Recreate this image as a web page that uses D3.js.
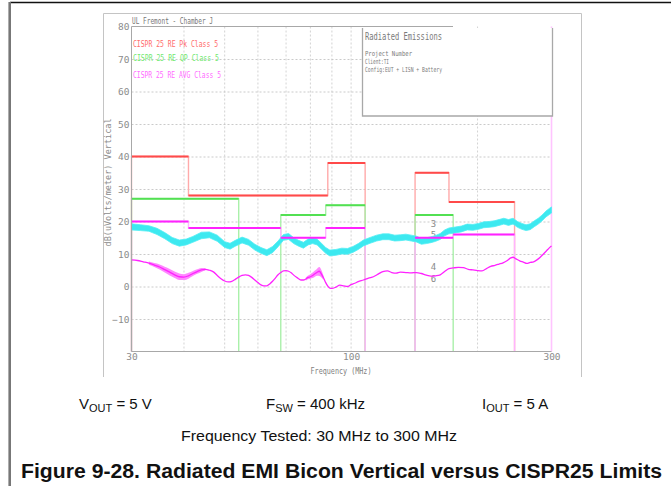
<!DOCTYPE html>
<html>
<head>
<meta charset="utf-8">
<script src="https://cdn.jsdelivr.net/npm/d3@7"></script>
<style>
  html, body { margin: 0; padding: 0; background: #fff; }
  svg { display: block; }
</style>
</head>
<body>
<svg id="chart" width="671" height="486"></svg>
<script>
// ---------- DATA ----------
const xTickValues = [30, 100, 300];
const xGridValues = [40, 50, 60, 70, 80, 90, 100, 200];
const yTickValues = [-10, 0, 10, 20, 30, 40, 50, 60, 70, 80];
const yGridValues = [-10, 0, 10, 20, 30, 40, 50, 60, 70];

// CISPR 25 Class 5 limits (band start MHz, band end MHz, level dBuV/m)
const peakStart = [30, 41, 88, 142, 171];
const peakEnd   = [41, 88, 108, 171, 245];
const peakLevel = [40, 28, 38, 35, 26];

const qpStart = [30, 68, 87, 142];
const qpEnd   = [54, 87, 108, 175];
const qpLevel = [27, 22, 25, 22];

const avgStart = [30, 41, 68, 87, 142, 175];
const avgEnd   = [41, 68, 87, 108, 175, 245];
const avgLevel = [20, 18, 15, 18, 15, 16];

const legendLabels = ["CISPR 25 RE Pk Class 5", "CISPR 25 RE QP Class 5", "CISPR 25 RE AVG Class 5"];

// Peak trace (cyan) envelope
const cyanFreq = [30, 31.5, 33, 34.5, 36, 37.5, 39, 40.5, 42, 44, 46, 48, 50, 51.5, 53, 55, 57, 59, 61, 63, 65, 67, 69, 71, 73, 75, 77, 79, 81, 83, 85, 87, 89, 92, 95, 98, 101, 104, 107, 111, 115, 119, 123, 127, 131, 135, 139, 143, 147, 151, 155, 159, 163, 167, 171, 177, 183, 189, 195, 201, 207, 213, 219, 225, 231, 237, 243, 249, 255, 261, 267, 273, 279, 285, 291, 297, 300];
const cyanLow  = [17.4, 17.2, 17.0, 16.0, 14.7, 13.2, 12.4, 12.8, 13.6, 14.7, 15.0, 13.9, 12.0, 11.5, 12.4, 13.4, 12.7, 11.2, 10.2, 9.5, 10.4, 12.2, 14.2, 14.5, 13.2, 12.4, 11.8, 12.8, 13.2, 12.8, 11.5, 10.2, 9.4, 9.6, 10.0, 9.9, 10.5, 11.4, 12.5, 13.3, 14.0, 14.4, 14.4, 14.0, 14.1, 14.3, 14.0, 13.7, 13.0, 13.2, 13.5, 13.9, 14.5, 15.6, 16.2, 16.5, 16.8, 17.4, 17.3, 17.6, 18.1, 18.2, 18.4, 18.8, 19.2, 18.8, 19.2, 18.2, 17.6, 17.2, 17.5, 18.4, 19.2, 20.2, 21.4, 22.2, 22.6];
const cyanHigh = [19.3, 19.0, 18.7, 17.9, 16.6, 15.1, 14.3, 14.6, 15.4, 16.7, 16.8, 15.8, 13.8, 13.3, 14.2, 15.2, 14.5, 13.0, 12.0, 11.3, 12.3, 14.0, 16.0, 16.3, 15.0, 14.2, 13.6, 14.6, 15.0, 14.6, 13.3, 12.0, 11.2, 11.4, 11.8, 11.7, 12.3, 13.2, 14.3, 15.1, 15.8, 16.2, 16.2, 15.8, 15.9, 16.1, 15.8, 15.5, 14.8, 15.0, 15.3, 15.7, 16.3, 17.4, 18.0, 18.3, 18.6, 19.2, 19.1, 19.4, 19.9, 20.0, 20.2, 20.6, 21.0, 20.6, 21.0, 20.0, 19.4, 19.0, 19.3, 20.2, 21.0, 22.0, 23.2, 24.1, 24.5];

// Average trace (magenta)
const magFreq = [30, 31, 32, 33, 34, 35, 36, 37, 38, 39, 40, 41, 42, 43, 44, 45, 46, 47, 48, 49, 50, 51, 52, 53, 54, 55, 56, 57, 58, 59, 60, 61, 62, 63, 64, 65, 66, 67, 68, 69, 70, 71, 72, 73, 74, 75, 76, 77, 78, 79, 80, 81, 82, 83, 84, 85, 86, 87, 88, 89, 90, 92, 94, 96, 98, 100, 102, 104, 107, 110, 113, 116, 119, 122, 125, 128, 131, 135, 139, 143, 147, 151, 155, 159, 163, 167, 171, 175, 180, 185, 190, 195, 200, 205, 210, 215, 220, 225, 230, 235, 240, 243, 247, 252, 257, 262, 267, 272, 277, 282, 287, 292, 296, 300];
const magDb   = [8.2, 8.0, 7.6, 7.2, 6.6, 6.0, 5.2, 4.4, 3.6, 3.0, 2.9, 3.3, 4.0, 4.6, 5.1, 5.3, 5.0, 4.5, 3.4, 2.4, 1.7, 1.4, 1.6, 2.2, 2.9, 3.4, 3.6, 3.4, 2.8, 2.0, 1.2, 0.5, 0.2, 0.2, 0.8, 1.6, 2.6, 3.6, 4.3, 4.8, 4.9, 4.7, 4.2, 3.5, 2.9, 2.4, 2.0, 2.0, 2.3, 2.8, 3.0, 3.4, 3.9, 4.4, 4.7, 3.8, 2.6, 1.2, 0.1, -0.5, -0.6, -0.2, 0.4, 0.2, 0.0, 0.6, 1.0, 1.5, 2.0, 2.6, 3.0, 3.8, 4.6, 4.8, 4.3, 4.1, 4.4, 4.3, 4.2, 4.3, 4.0, 3.5, 3.2, 3.3, 3.6, 4.6, 5.5, 5.7, 5.9, 5.8, 5.3, 5.1, 4.9, 4.8, 5.5, 6.2, 6.5, 6.9, 7.3, 7.9, 8.8, 9.0, 8.5, 7.9, 7.5, 7.1, 7.4, 7.6, 8.2, 9.0, 10.0, 11.0, 11.8, 12.5];

// ripple regions of the average trace
const ripple1Freq = [33, 34, 35, 36, 37, 38, 39, 40, 41, 42, 43, 44, 45];
const ripple1Low  = [6.7, 6.0, 5.2, 4.3, 3.4, 2.6, 2.0, 2.0, 2.4, 3.2, 3.9, 4.5, 4.9];
const ripple1High = [7.7, 7.2, 6.8, 6.1, 5.4, 4.6, 4.0, 3.8, 4.2, 4.8, 5.3, 5.7, 5.7];
const ripple2Freq = [78, 79, 80, 81, 82, 83, 84, 85, 86];
const ripple2Low  = [1.8, 2.2, 2.4, 2.6, 3.0, 3.3, 3.2, 2.8, 2.0];
const ripple2High = [2.8, 3.4, 3.8, 4.3, 4.9, 5.5, 6.0, 5.0, 3.2];

// trace marker numbers
const markerText = ["3", "5", "4", "6"];
const markerFreq = [157, 157, 157, 157];
const markerDb   = [19.3, 15.9, 6.2, 2.6];

// ---------- DRAW ----------
const svg = d3.select("#chart");
const x = d3.scaleLog().domain([30, 300]).range([131.5, 551.5]);
const y = d3.scaleLinear().domain([-20, 80]).range([351.5, 26.5]);
const chartFont = "'DejaVu Sans Mono', monospace";

// page frame
svg.append("line").attr("x1", 10).attr("x2", 671).attr("y1", 2.5).attr("y2", 2.5)
  .attr("stroke", "#111").attr("stroke-width", 1.3);
svg.append("line").attr("x1", 9.7).attr("x2", 9.7).attr("y1", 2).attr("y2", 486)
  .attr("stroke", "#777").attr("stroke-width", 2.6);

// chart image frame
svg.append("path").attr("d", "M103.5,377 L103.5,13.5 L581.5,13.5 L581.5,377")
  .attr("fill", "none").attr("stroke", "#c4c4c4").attr("stroke-width", 1);

// grid
const gridG = svg.append("g");
gridG.selectAll("line.hg").data(yGridValues).enter().append("line")
  .attr("x1", x(30)).attr("x2", x(300)).attr("y1", d => y(d) + 0.5).attr("y2", d => y(d) + 0.5)
  .attr("stroke", "#bdbdbd").attr("stroke-width", 0.8).attr("stroke-dasharray", "2,2");
gridG.selectAll("line.vg").data(xGridValues).enter().append("line")
  .attr("x1", d => x(d)).attr("x2", d => x(d)).attr("y1", y(80)).attr("y2", y(-20))
  .attr("stroke", "#c8c8c8").attr("stroke-width", 0.8).attr("stroke-dasharray", "2,2");

// right border of the sweep (pale pink)
svg.append("line").attr("x1", x(300)).attr("x2", x(300)).attr("y1", y(80)).attr("y2", y(-20))
  .attr("stroke", "#ffc4ff").attr("stroke-width", 1.6);

// step paths of limits (vertical edges pale)
function stepPath(starts, ends, levels) {
  let d = "";
  for (let i = 0; i < starts.length; i++) {
    if (i === 0 || starts[i] !== ends[i - 1]) {
      d += `M${x(starts[i])},${y(-20)}L${x(starts[i])},${y(levels[i])}`;
    } else {
      d += `L${x(starts[i])},${y(levels[i])}`;
    }
    d += `L${x(ends[i])},${y(levels[i])}`;
    if (i === starts.length - 1 || ends[i] !== starts[i + 1]) {
      d += `L${x(ends[i])},${y(-20)}`;
    }
  }
  return d;
}
const limits = [
  { s: peakStart, e: peakEnd, l: peakLevel, pale: "#ffaaaa", main: "#ff4a4a" },
  { s: qpStart, e: qpEnd, l: qpLevel, pale: "#aaf0aa", main: "#52e052" },
  { s: avgStart, e: avgEnd, l: avgLevel, pale: "#ffb4ff", main: "#ff22ff" }
];
limits.forEach(L => {
  svg.append("path").attr("d", stepPath(L.s, L.e, L.l))
    .attr("fill", "none").attr("stroke", L.pale).attr("stroke-width", 1.4);
});

// marker numbers
svg.selectAll("text.mk").data(markerText).enter().append("text")
  .attr("x", (d, i) => x(markerFreq[i])).attr("y", (d, i) => y(markerDb[i]) + 3.5)
  .attr("text-anchor", "middle").attr("font-family", chartFont).attr("font-size", 9)
  .attr("fill", "#8a8a8a").text(d => d);

// cyan trace band
const cyanIdx = d3.range(cyanFreq.length);
svg.append("path").datum(cyanIdx)
  .attr("d", d3.area().x(i => x(cyanFreq[i])).y0(i => y(cyanLow[i])).y1(i => y(cyanHigh[i])))
  .attr("fill", "#3de9f0").attr("stroke", "#52eef4").attr("stroke-width", 0.8);

// magenta trace
const magIdx = d3.range(magFreq.length);
[[ripple1Freq, ripple1Low, ripple1High], [ripple2Freq, ripple2Low, ripple2High]].forEach(r => {
  svg.append("path").datum(d3.range(r[0].length))
    .attr("d", d3.area().curve(d3.curveMonotoneX).x(i => x(r[0][i])).y0(i => y(r[1][i])).y1(i => y(r[2][i])))
    .attr("fill", "#ff88ff").attr("stroke", "none");
});
svg.append("path").datum(magIdx)
  .attr("d", d3.line().curve(d3.curveMonotoneX).x(i => x(magFreq[i])).y(i => y(magDb[i])))
  .attr("fill", "none").attr("stroke", "#ff22ff").attr("stroke-width", 1.3);

// horizontal limit segments
limits.forEach(L => {
  svg.selectAll(null).data(L.s).enter().append("line")
    .attr("x1", (d, i) => x(L.s[i])).attr("x2", (d, i) => x(L.e[i]))
    .attr("y1", (d, i) => y(L.l[i])).attr("y2", (d, i) => y(L.l[i]))
    .attr("stroke", L.main).attr("stroke-width", 1.8);
});

// axes
const yAxis = d3.axisLeft(y).tickValues(yTickValues).tickSize(0).tickPadding(2).tickFormat(d3.format("d"));
const yG = svg.append("g").attr("transform", `translate(${x(30)},0)`).call(yAxis);
yG.select(".domain").remove();
yG.selectAll("text").attr("font-family", chartFont).attr("font-size", 9.5).attr("fill", "#8c8c8c");

const xAxis = d3.axisBottom(x).tickValues(xTickValues).tickSize(0).tickPadding(2).tickFormat(d3.format("d"));
const xG = svg.append("g").attr("transform", `translate(0,${y(-20)})`).call(xAxis);
xG.select(".domain").remove();
xG.selectAll("text").attr("font-family", chartFont).attr("font-size", 9.5).attr("fill", "#8c8c8c");

// plot frame lines
svg.append("line").attr("x1", x(30)).attr("x2", x(30)).attr("y1", y(80)).attr("y2", y(-20))
  .attr("stroke", "#a8a8a8").attr("stroke-width", 1);
svg.append("line").attr("x1", x(30)).attr("x2", x(300)).attr("y1", y(-20)).attr("y2", y(-20))
  .attr("stroke", "#a8a8a8").attr("stroke-width", 1);
svg.append("line").attr("x1", x(30)).attr("x2", 453).attr("y1", y(80)).attr("y2", y(80))
  .attr("stroke", "#a8a8a8").attr("stroke-width", 1);

// legend box (top right)
svg.append("rect").attr("x", 362.5).attr("y", 28).attr("width", 190).attr("height", 88)
  .attr("fill", "#fff");
svg.append("path").attr("d", "M362.5,28 L362.5,116 L552.5,116 L552.5,28")
  .attr("fill", "none").attr("stroke", "#a8a8a8").attr("stroke-width", 1.3);
const boxText = [
  { t: "Radiated Emissions", y: 40, fs: 10, len: 77 },
  { t: "Project Number", y: 56, fs: 7, len: 47 },
  { t: "Client:TI", y: 63.8, fs: 7, len: 24 },
  { t: "Config:EUT + LISN + Battery", y: 71.6, fs: 7, len: 77 }
];
boxText.forEach(b => {
  svg.append("text").attr("x", 365).attr("y", b.y).attr("font-family", chartFont)
    .attr("font-size", b.fs).attr("fill", "#7a7a7a")
    .attr("textLength", b.len).attr("lengthAdjust", "spacingAndGlyphs").text(b.t);
});

// title in chart
svg.append("text").attr("x", 132).attr("y", 23.5).attr("font-family", chartFont)
  .attr("font-size", 9).attr("fill", "#777").attr("textLength", 81)
  .attr("lengthAdjust", "spacingAndGlyphs").text("UL Fremont - Chamber J");

// legend texts inside plot
const legendColors = ["#ff6b6b", "#6fe86f", "#ff6cff"];
const legendY = [47, 60.5, 77.5];
const legendLen = [85, 86, 88];
legendLabels.forEach((t, i) => {
  svg.append("text").attr("x", 133).attr("y", legendY[i]).attr("font-family", chartFont)
    .attr("font-size", 9.5).attr("fill", legendColors[i]).attr("textLength", legendLen[i])
    .attr("lengthAdjust", "spacingAndGlyphs").text(t);
});

// axis titles
svg.append("text").attr("x", 341).attr("y", 374).attr("text-anchor", "middle")
  .attr("font-family", chartFont).attr("font-size", 8.5).attr("fill", "#808080")
  .attr("textLength", 61).attr("lengthAdjust", "spacingAndGlyphs").text("Frequency (MHz)");
svg.append("text").attr("transform", "translate(111,182.5) rotate(-90)").attr("text-anchor", "middle")
  .attr("font-family", chartFont).attr("font-size", 8).attr("fill", "#8a8a8a")
  .attr("textLength", 128).attr("lengthAdjust", "spacingAndGlyphs").text("dB(uVolts/meter) Vertical");

// ---------- captions below ----------
const capFont = "'Liberation Sans', Arial, sans-serif";
function subText(xp, yp, main, sub, rest) {
  const t = svg.append("text").attr("x", xp).attr("y", yp).attr("font-family", capFont)
    .attr("font-size", 15).attr("fill", "#111");
  t.append("tspan").text(main);
  t.append("tspan").attr("font-size", 11).attr("dy", 3).text(sub);
  t.append("tspan").attr("dy", -3).text(rest);
}
subText(79, 409, "V", "OUT", " = 5 V");
subText(266, 409, "F", "SW", " = 400 kHz");
subText(482, 409, "I", "OUT", " = 5 A");
svg.append("text").attr("x", 319).attr("y", 441).attr("text-anchor", "middle")
  .attr("font-family", capFont).attr("font-size", 15.5).attr("fill", "#111")
  .attr("textLength", 276).attr("lengthAdjust", "spacingAndGlyphs")
  .text("Frequency Tested: 30 MHz to 300 MHz");
svg.append("text").attr("x", 21).attr("y", 478).attr("font-family", capFont)
  .attr("font-size", 19.5).attr("font-weight", "bold").attr("fill", "#111")
  .attr("textLength", 641).attr("lengthAdjust", "spacingAndGlyphs")
  .text("Figure 9-28. Radiated EMI Bicon Vertical versus CISPR25 Limits");
</script>
</body>
</html>
